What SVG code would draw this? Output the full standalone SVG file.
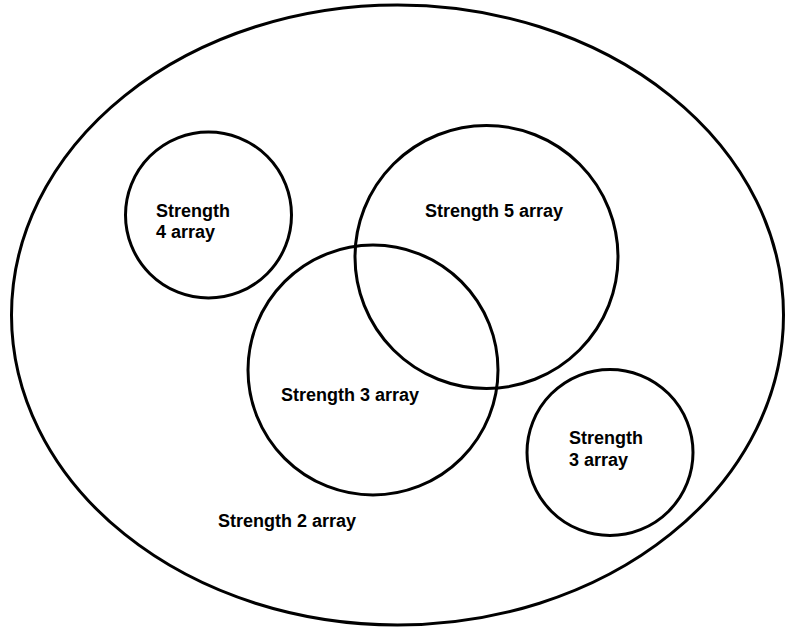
<svg xmlns="http://www.w3.org/2000/svg" width="789" height="628" viewBox="0 0 789 628">
<style>
.s{fill:none;stroke:#000;stroke-width:3}
.t{font-family:"Liberation Sans",Arial,sans-serif;font-weight:bold;font-size:18px;fill:#000}
</style>
<rect width="789" height="628" fill="#fff"/>
<g id="strength2"><ellipse class="s" cx="397.5" cy="315" rx="386" ry="310"/><text class="t" x="218" y="527">Strength 2 array</text></g>
<g id="strength4"><circle class="s" cx="208.5" cy="215" r="83"/><text class="t" x="156" y="217">Strength</text><text class="t" x="156" y="238">4 array</text></g>
<g id="strength5"><circle class="s" cx="486.5" cy="257" r="131.5"/><text class="t" x="425" y="217">Strength 5 array</text></g>
<g id="strength3a"><circle class="s" cx="373" cy="370" r="125"/><text class="t" x="281" y="401">Strength 3 array</text></g>
<g id="strength3b"><circle class="s" cx="610" cy="452.5" r="83"/><text class="t" x="569" y="444">Strength</text><text class="t" x="569" y="466">3 array</text></g>
<g id="connectors"/>
</svg>
